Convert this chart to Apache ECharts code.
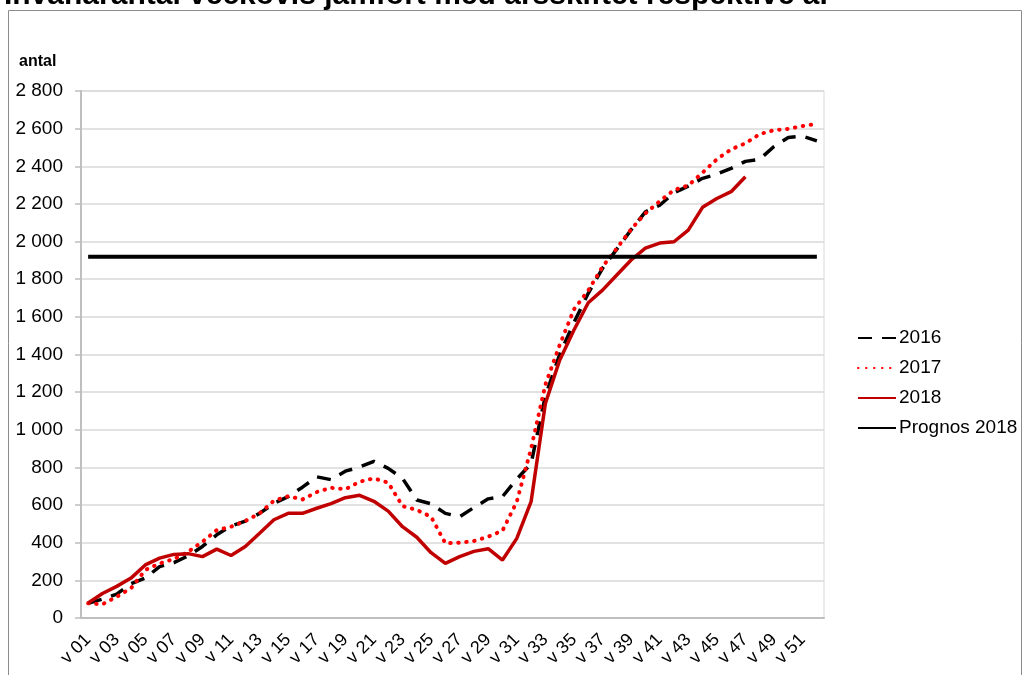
<!DOCTYPE html>
<html>
<head>
<meta charset="utf-8">
<script src="https://cdn.jsdelivr.net/npm/echarts@6/dist/echarts.min.js"></script>
<style>
html, body { margin: 0; padding: 0; background: #fff; }
#chart { width: 1023px; height: 675px; }
</style>
</head>
<body>
<div id="chart"></div>
<script>
// veckor
var weeks = [];
for (var w = 1; w <= 52; w++) {
	weeks.push("v " + (w < 10 ? "0" + w : w));
}

var y2016 = [78, 100, 127, 182, 212, 273, 294, 330, 380, 442,
	489, 515, 556, 609, 645, 695, 750, 735, 780, 802,
	832, 795, 742, 627, 607, 556, 538, 587, 633, 645,
	738, 820, 1180, 1400, 1570, 1725, 1858, 1960, 2062, 2158,
	2193, 2259, 2295, 2336, 2358, 2389, 2426, 2437, 2505, 2553, 2560, 2535];

var y2017 = [78, 73, 113, 158, 255, 290, 313, 352, 405, 467,
	485, 515, 556, 623, 647, 630, 669, 692, 684, 724,
	742, 719, 595, 574, 538, 397, 400, 409, 432, 464,
	618, 901, 1240, 1450, 1640, 1740, 1866, 1964, 2065, 2150,
	2214, 2274, 2298, 2366, 2437, 2490, 2522, 2571, 2592, 2599, 2614, 2625];

var y2018 = [80, 130, 168, 212, 282, 318, 338, 342, 326, 366,
	332, 380, 450, 522, 556, 556, 583, 608, 639, 652,
	620, 568, 485, 429, 347, 290, 326, 354, 368, 308,
	423, 618, 1140, 1370, 1530, 1675, 1742, 1822, 1902, 1965,
	1992, 1999, 2061, 2182, 2229, 2265, 2344];

var prognos = 1920;	// prognos 2018, samma värde alla veckor

var font = "'Liberation Sans', Arial, sans-serif";

var fmt = function(v) {
	return String(v).replace(/\B(?=(\d{3})+(?!\d))/g, " ");
};

var myChart = echarts.init(document.getElementById("chart"));

option = {
	animation: false,
	textStyle: { fontFamily: font },
	graphic: [
		{
			type: "rect",
			shape: { x: 8.5, y: 10.5, width: 1013, height: 700 },
			style: { fill: null, stroke: "#8c8c8c", lineWidth: 1 },
			silent: true
		},
		{
			type: "text",
			x: 4, y: -4.5,
			style: {
				text: "Invånarantal veckovis jämfört med årsskiftet respektive år",
				font: "bold 30px " + font,
				fill: "#000",
				verticalAlign: "middle"
			}
		},
		{
			type: "text",
			x: 19, y: 62,
			style: {
				text: "antal",
				font: "bold 16px " + font,
				fill: "#000",
				verticalAlign: "middle"
			}
		}
	],
	grid: {
		left: 81, top: 91, right: 199, bottom: 57,
		show: true, borderColor: "#d9d9d9", borderWidth: 1
	},
	legend: {
		orient: "vertical",
		left: 857, top: 328, padding: 0,
		itemWidth: 38, itemHeight: 12, itemGap: 10,
		selectedMode: false,
		itemStyle: { opacity: 0 },
		textStyle: { fontSize: 19, color: "#000", lineHeight: 20, fontFamily: font, padding: [0, 0, 0, -2] },
		data: ["2016", "2017", "2018", "Prognos 2018"]
	},
	xAxis: {
		type: "category",
		data: weeks,
		boundaryGap: true,
		axisLine: { lineStyle: { color: "#bfbfbf", width: 2 } },
		axisTick: { interval: 0, length: 6, lineStyle: { color: "#bfbfbf", width: 1.5 } },
		axisLabel: { interval: 1, rotate: 45, margin: 19, fontSize: 18, color: "#000" },
		splitLine: { show: false }
	},
	yAxis: {
		type: "value",
		min: 0, max: 2800, interval: 200,
		axisLine: { show: true, lineStyle: { color: "#bfbfbf", width: 2 } },
		axisTick: { show: true, length: 6, lineStyle: { color: "#bfbfbf", width: 1.5 } },
		axisLabel: { margin: 18, fontSize: 19, color: "#000", formatter: fmt },
		splitLine: { lineStyle: { color: "#d9d9d9", width: 1.5 } }
	},
	series: [
		{
			name: "2016", type: "line", data: y2016, symbol: "none",
			lineStyle: { color: "#000", width: 3.5, type: [14, 10] },
			itemStyle: { color: "#000" }
		},
		{
			name: "2017", type: "line", data: y2017, symbol: "none",
			lineStyle: { color: "#ff0000", width: 4, type: [0.5, 7.5], cap: "round" },
			itemStyle: { color: "#ff0000" }
		},
		{
			name: "2018", type: "line", data: y2018, symbol: "none",
			lineStyle: { color: "#c00000", width: 3.5 },
			itemStyle: { color: "#c00000" }
		},
		{
			name: "Prognos 2018", type: "line", data: weeks.map(function(){ return prognos; }), symbol: "none",
			lineStyle: { color: "#000", width: 4 },
			itemStyle: { color: "#000" }
		}
	]
};

myChart.setOption(option, true);
</script>
</body>
</html>
